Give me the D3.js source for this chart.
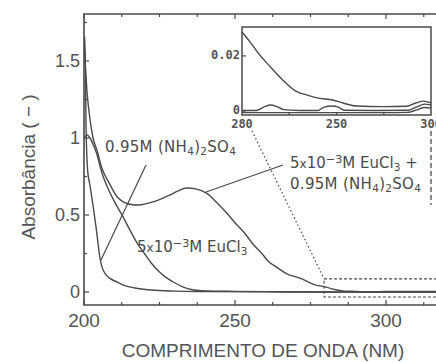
<!DOCTYPE html>
<html>
<head>
<meta charset="utf-8">
<script src="https://cdn.jsdelivr.net/npm/d3@7"></script>
<style>
  body { margin: 0; background: #fff; overflow: hidden; }
  svg { display: block; }
  text { font-family: "Liberation Sans", Arial, sans-serif; fill: #545454; }
  .note { font-family: "DejaVu Sans", sans-serif; fill: #4a4a4a; }
</style>
</head>
<body>
<div id="chart"></div>
<script>
// spectra (wavelength nm -> absorbance)
const wlSulfate = [200, 200.3, 200.7, 201.2, 202, 203, 204, 205.3, 206, 207, 208.5, 210.9, 213, 216.9, 222.2, 230, 240, 260, 280, 300, 320];
const absSulfate = [1.62, 1.66, 1.05, 0.79, 0.69, 0.56, 0.42, 0.22, 0.16, 0.12, 0.09, 0.065, 0.045, 0.026, 0.013, 0.006, 0.003, 0.001, 0, 0, 0];

const wlEu = [200, 201, 202, 203, 204, 206, 208, 210, 212.3, 215, 217.5, 220, 222.2, 225, 227.5, 230, 233.1, 236.4, 240, 250, 265, 280, 300, 320];
const absEu = [1.0, 1.02, 1.0, 0.96, 0.91, 0.77, 0.67, 0.59, 0.51, 0.41, 0.32, 0.25, 0.19, 0.13, 0.09, 0.06, 0.03, 0.013, 0.007, 0.004, 0.002, 0, 0, 0];

const wlMix = [200, 200.5, 201, 202, 203, 204.3, 206, 208, 210.9, 213, 216.6, 219, 221.9, 225, 228.5, 231, 234.1, 237, 240.7, 244, 247.4, 250, 253.3, 256, 258.9, 261, 263.9, 267, 271.5, 276, 280.5, 283, 285.7, 288.1, 290.7, 292.1, 295, 297.4, 299.2, 305, 320];
const absMix = [1.62, 1.45, 1.3, 1.12, 1.0, 0.92, 0.8, 0.72, 0.62, 0.585, 0.565, 0.567, 0.58, 0.6, 0.63, 0.655, 0.675, 0.67, 0.64, 0.58, 0.51, 0.45, 0.38, 0.31, 0.25, 0.2, 0.16, 0.12, 0.09, 0.05, 0.03, 0.016, 0.0072, 0.0047, 0.0029, 0.0018, 0.0016, 0.0017, 0.0036, 0.003, 0.003];

// inset: 280-300 nm enlarged
const insetMixWl = [280, 280.85, 281.7, 283, 284.3, 285.7, 287, 288.1, 289.6, 290.7, 292.1, 295, 297.4, 298.4, 299.2, 300];
const insetMixAbs = [0.0287, 0.0251, 0.0211, 0.016, 0.0113, 0.0072, 0.0057, 0.0047, 0.004, 0.0029, 0.0018, 0.0016, 0.0017, 0.0029, 0.0036, 0.003];
const insetEuWl = [280, 281.5, 282.4, 283, 283.7, 284.4, 286, 288, 288.7, 289.5, 290.2, 290.8, 294, 297.6, 298.5, 299.3, 300];
const insetEuAbs = [0.0002, 0.0002, 0.0016, 0.0022, 0.0016, 0.0005, 0.0002, 0.0002, 0.0014, 0.0018, 0.0014, 0.0003, 0.0002, 0.0003, 0.0015, 0.0025, 0.0022];
const insetSulWl = [280, 285, 290, 295, 297.5, 298.5, 299.3, 300];
const insetSulAbs = [-0.0006, -0.0006, -0.0006, -0.0006, -0.0005, 0.0004, 0.0013, 0.0011];

const xTicksMajor = [200, 250, 300];
const yTicksMajor = [0, 0.5, 1, 1.5];
const insetXTicks = [280, 290, 300];
const insetXLabels = ["280", "250", "300"];
const insetYTicks = [0, 0.02];
const insetYLabels = ["0", "0.02"];

const W = 436, H = 362;
const ink = "#4a4a4a";

const svg = d3.select("#chart").append("svg")
  .attr("width", W).attr("height", H);

// main scales
const x = d3.scaleLinear().domain([200, 300]).range([84, 386]);
const y = d3.scaleLinear().domain([0, 1.5]).range([292, 61]);
const plotTop = 14, plotBottom = 305, plotLeft = 84;

svg.append("clipPath").attr("id", "clipMain")
  .append("rect").attr("x", plotLeft).attr("y", plotTop)
  .attr("width", W - plotLeft).attr("height", plotBottom - plotTop);

// frame
svg.append("path")
  .attr("d", `M${W + 5},${plotTop}H${plotLeft}V${plotBottom}H${W + 5}`)
  .attr("fill", "none").attr("stroke", ink).attr("stroke-width", 1.6);

// bottom / top ticks (inward)
const xMinor = d3.range(200, 330, 12.5);
const gx = svg.append("g");
gx.selectAll(".tb").data(xMinor).join("line")
  .attr("x1", d => x(d)).attr("x2", d => x(d))
  .attr("y1", plotBottom).attr("y2", d => plotBottom - (d % 50 === 0 ? 5 : 3))
  .attr("stroke", ink).attr("stroke-width", 1.2);
gx.selectAll(".tt").data(xMinor).join("line")
  .attr("x1", d => x(d)).attr("x2", d => x(d))
  .attr("y1", plotTop).attr("y2", d => plotTop + (d % 50 === 0 ? 5 : 3))
  .attr("stroke", ink).attr("stroke-width", 1.2);
gx.selectAll("text").data(xTicksMajor).join("text")
  .attr("x", d => x(d)).attr("y", 327)
  .attr("text-anchor", "middle").attr("font-size", 19)
  .text(d => d);

// left ticks
const yMinor = d3.range(0, 1.76, 0.25);
const gy = svg.append("g");
gy.selectAll("line").data(yMinor).join("line")
  .attr("x1", plotLeft).attr("x2", d => plotLeft + (d % 0.5 === 0 ? 5 : 3))
  .attr("y1", d => y(d)).attr("y2", d => y(d))
  .attr("stroke", ink).attr("stroke-width", 1.2);
gy.selectAll("text").data(yTicksMajor).join("text")
  .attr("x", 80).attr("y", d => y(d) + 6)
  .attr("text-anchor", "end").attr("font-size", 18)
  .text(d => d);

// axis titles
svg.append("text")
  .attr("x", 263).attr("y", 357)
  .attr("text-anchor", "middle").attr("font-size", 19)
  .text("COMPRIMENTO DE ONDA  (NM)");
svg.append("text")
  .attr("transform", "translate(35,167) rotate(-90)")
  .attr("text-anchor", "middle").attr("font-size", 19)
  .text("Absorbância ( − )");

// curves
const line = d3.line().x(d => x(d[0])).y(d => y(d[1])).curve(d3.curveMonotoneX);
const gc = svg.append("g").attr("clip-path", "url(#clipMain)");
[[wlSulfate, absSulfate], [wlEu, absEu], [wlMix, absMix]].forEach(([w, a]) => {
  gc.append("path")
    .attr("d", line(d3.zip(w, a)))
    .attr("fill", "none").attr("stroke", ink).attr("stroke-width", 1.4);
});

// dashed zoom box around 280 nm region
gc.append("rect")
  .attr("x", x(279.5)).attr("y", y(0.085))
  .attr("width", W - x(279.5) + 10).attr("height", y(-0.032) - y(0.085))
  .attr("fill", "none").attr("stroke", ink).attr("stroke-width", 1.1)
  .attr("stroke-dasharray", "3,2");

// inset
const xi = d3.scaleLinear().domain([280, 300]).range([242, 431]);
const yi = d3.scaleLinear().domain([-0.00145, 0.0305]).range([115, 27]);

svg.append("line")
  .attr("x1", 252).attr("y1", 131).attr("x2", x(279.5)).attr("y2", y(0.085))
  .attr("stroke", ink).attr("stroke-width", 1.2).attr("stroke-dasharray", "1.5,2.5");
svg.append("line")
  .attr("x1", 431).attr("y1", 131).attr("x2", 431).attr("y2", 205)
  .attr("stroke", ink).attr("stroke-width", 1.3).attr("stroke-dasharray", "5,3");

const gi = svg.append("g");
gi.append("rect")
  .attr("x", xi(280)).attr("y", yi(0.0305))
  .attr("width", xi(300) - xi(280)).attr("height", yi(-0.00145) - yi(0.0305))
  .attr("fill", "#fff").attr("stroke", ink).attr("stroke-width", 1.5);
gi.selectAll(".ix").data(d3.range(285, 300, 5)).join("line")
  .attr("x1", d => xi(d)).attr("x2", d => xi(d))
  .attr("y1", yi(-0.00145)).attr("y2", yi(-0.00145) - 3)
  .attr("stroke", ink).attr("stroke-width", 1.2);
gi.selectAll(".iy").data(insetYTicks).join("line")
  .attr("x1", xi(280)).attr("x2", xi(280) + 4)
  .attr("y1", d => yi(d)).attr("y2", d => yi(d))
  .attr("stroke", ink).attr("stroke-width", 1.2);
gi.selectAll(".lx").data(insetXTicks).join("text")
  .attr("x", d => xi(d)).attr("y", 128)
  .attr("text-anchor", "middle")
  .style("font-family", "'DejaVu Sans Mono', monospace").style("font-weight", "bold")
  .attr("font-size", 12)
  .text((d, i) => insetXLabels[i]);
gi.selectAll(".ly").data(insetYTicks).join("text")
  .attr("x", 240).attr("y", d => yi(d) + 3)
  .attr("text-anchor", "end")
  .style("font-family", "'DejaVu Sans Mono', monospace").style("font-weight", "bold")
  .attr("font-size", 12)
  .text((d, i) => insetYLabels[i]);

const lineI = d3.line().x(d => xi(d[0])).y(d => yi(d[1])).curve(d3.curveMonotoneX);
[[insetMixWl, insetMixAbs], [insetEuWl, insetEuAbs], [insetSulWl, insetSulAbs]].forEach(([w, a]) => {
  gi.append("path")
    .attr("d", lineI(d3.zip(w, a)))
    .attr("fill", "none").attr("stroke", ink).attr("stroke-width", 1.4);
});

// labels with leader lines
function chem(sel, parts) {
  parts.forEach(p => {
    const t = sel.append("tspan").text(p[0]);
    if (p[1] === "sub") t.attr("baseline-shift", "-25%").attr("font-size", "70%");
    if (p[1] === "sup") t.attr("baseline-shift", "45%").attr("font-size", "75%");
    if (p[1] === "small") t.attr("font-size", "80%");
  });
}
const sulfateParts = [["0.95M (NH"], ["4", "sub"], [")"], ["2", "sub"], ["SO"], ["4", "sub"]];
const euParts = [["5"], ["x", "small"], ["10"], ["−3", "sup"], ["M EuCl"], ["3", "sub"]];

const lab1 = svg.append("text").attr("class", "note").attr("x", 105).attr("y", 152)
  .attr("font-size", 15).attr("letter-spacing", 0.3);
chem(lab1, sulfateParts);
svg.append("line")
  .attr("x1", 146).attr("y1", 165).attr("x2", 101).attr("y2", 260)
  .attr("stroke", ink).attr("stroke-width", 1.2);

const lab2 = svg.append("text").attr("class", "note").attr("x", 137).attr("y", 252).attr("font-size", 15);
chem(lab2, euParts);

const lab3 = svg.append("text").attr("class", "note").attr("x", 290).attr("y", 168).attr("font-size", 15);
chem(lab3, euParts.concat([[" +"]]));
const lab4 = svg.append("text").attr("class", "note").attr("x", 290).attr("y", 189)
  .attr("font-size", 15).attr("letter-spacing", 0.3);
chem(lab4, sulfateParts);
svg.append("line")
  .attr("x1", 283).attr("y1", 165).attr("x2", 206).attr("y2", 192)
  .attr("stroke", ink).attr("stroke-width", 1.2);
</script>
</body>
</html>
